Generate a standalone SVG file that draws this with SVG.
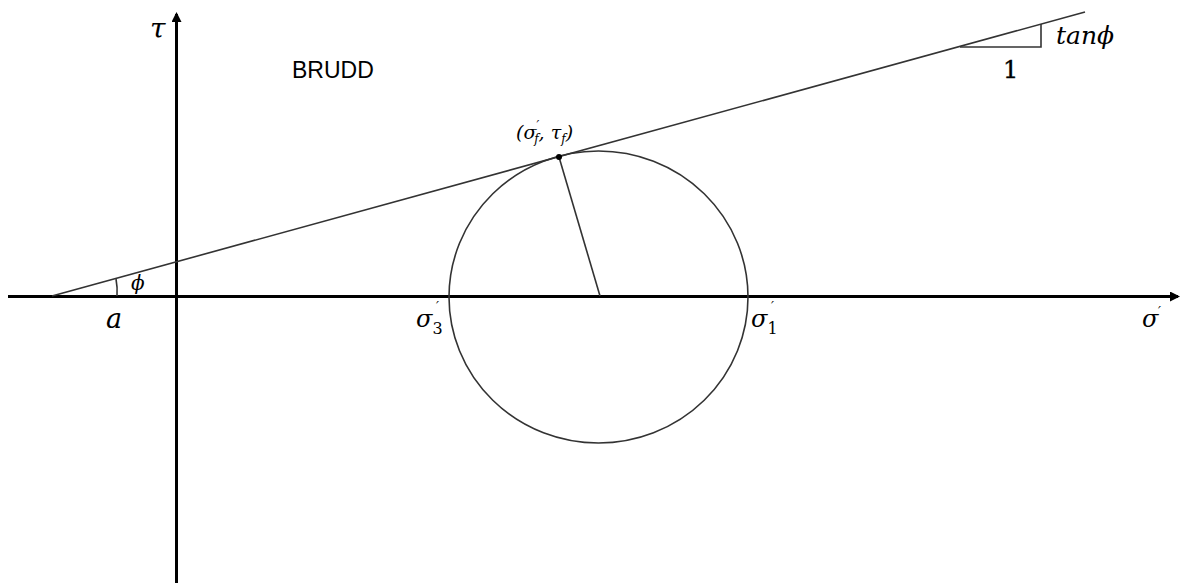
<svg xmlns="http://www.w3.org/2000/svg" width="1181" height="583" viewBox="0 0 1181 583">
<defs>
<marker id="ah" markerWidth="10" markerHeight="10" refX="8" refY="5" orient="auto" markerUnits="userSpaceOnUse">
<path d="M0,0 L10,5 L0,10 z" fill="#000"/>
</marker>
<style>
.ax{stroke:#000;stroke-width:3;fill:none}
.ln{stroke:#333;stroke-width:1.6;fill:none}
.m{font-family:"DejaVu Serif","Liberation Serif",serif;font-style:italic;fill:#000}
.n{font-family:"DejaVu Serif","Liberation Serif",serif;fill:#000}
.up{font-style:normal}
.s{font-family:"Liberation Sans",Arial,sans-serif;fill:#000}
</style>
</defs>
<rect width="1181" height="583" fill="#fff"/>
<g id="connectors">
<line class="ax" x1="8" y1="296.5" x2="1178" y2="296.5" marker-end="url(#ah)"/>
<line class="ax" x1="176.5" y1="583" x2="176.5" y2="14" marker-end="url(#ah)"/>
<line class="ln" x1="52" y1="296" x2="1085" y2="12"/>
<polyline class="ln" points="960,47 1041,47 1041,24"/>
<path class="ln" d="M116,279 A65,65 0 0 1 117,296"/>
<line class="ln" x1="600" y1="296" x2="559" y2="157"/>
</g>
<g id="circle">
<ellipse cx="598.5" cy="297" rx="149.5" ry="146" class="ln"/>
<circle cx="559" cy="157" r="3" fill="#000"/>
</g>
<g id="labels">
<text class="m" x="150" y="38" font-size="28">τ</text>
<text class="s" x="292" y="78" font-size="23">BRUDD</text>
<text class="m" x="1056" y="44" font-size="25">tanϕ</text>
<text class="n" x="1003" y="78" font-size="24" stroke="#000" stroke-width="0.4">1</text>
<text class="m" x="131" y="290" font-size="20">ϕ</text>
<text class="m" x="106" y="328" font-size="27">a</text>
<text class="m" x="516" y="139" font-size="19">(σ<tspan font-size="12" dy="-9">′</tspan><tspan font-size="12" dx="-5" dy="13">f</tspan><tspan dy="-4">, τ</tspan><tspan font-size="12" dy="4">f</tspan><tspan dy="-4">)</tspan></text>
<text class="m" x="416" y="327" font-size="24">σ<tspan class="up" font-size="16" dy="7">3</tspan></text>
<text class="m" x="436" y="311" font-size="13">′</text>
<text class="m" x="751" y="327" font-size="24">σ<tspan class="up" font-size="16" dy="7">1</tspan></text>
<text class="m" x="771" y="311" font-size="13">′</text>
<text class="m" x="1142" y="327" font-size="24">σ</text>
<text class="m" x="1158" y="316" font-size="13">′</text>
</g>
</svg>
